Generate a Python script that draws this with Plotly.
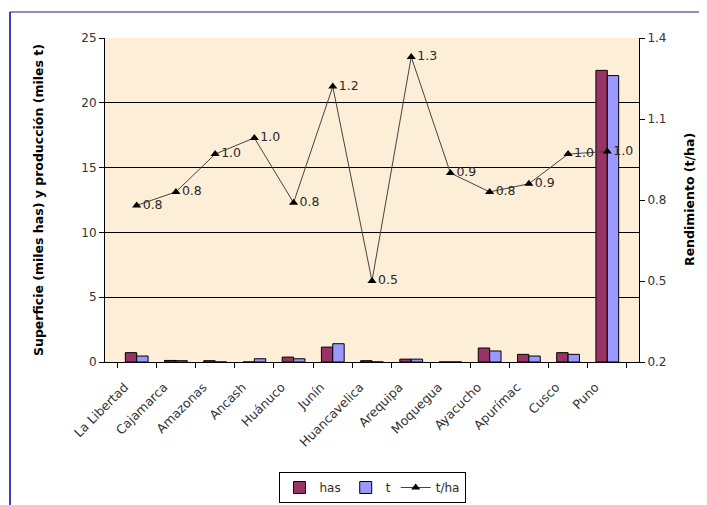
import plotly.graph_objects as go

regiones = ["La Libertad", "Cajamarca", "Amazonas", "Ancash", "Huánuco", "Junín",
            "Huancavelica", "Arequipa", "Moquegua", "Ayacucho", "Apurímac", "Cusco", "Puno"]
has = [0.72, 0.12, 0.10, 0.0, 0.38, 1.15, 0.10, 0.22, 0.0, 1.08, 0.59, 0.72, 22.5]
t = [0.46, 0.10, 0.0, 0.25, 0.25, 1.41, 0.0, 0.22, 0.0, 0.85, 0.46, 0.59, 22.1]
rend = [0.78, 0.83, 0.97, 1.03, 0.79, 1.22, 0.50, 1.33, 0.90, 0.83, 0.86, 0.97, 0.98]

FONT = "DejaVu Sans, Arial, sans-serif"
TXT = "#2a2a2a"

# the page body adds an 8px margin, so figure pixels = screen pixels - 8
OFF = 8
FW, FH = 707 - OFF, 505 - OFF
L, R, T, B = 105 - OFF, 639 - OFF, 38 - OFF, 362 - OFF
W, H = R - L, B - T

def px(x):
    return (x - OFF - L) / W

def py(y):
    return (B - (y - OFF)) / H

fig = go.Figure()
fig.add_trace(go.Bar(x=regiones, y=has, name="has", marker=dict(color="#993366", line=dict(color="black", width=1))))
fig.add_trace(go.Bar(x=regiones, y=t, name="t", marker=dict(color="#9999FF", line=dict(color="black", width=1))))
fig.add_trace(go.Scatter(
    x=regiones, y=rend, name="t/ha", yaxis="y2", mode="lines+markers+text",
    line=dict(color="#444444", width=1),
    marker=dict(symbol="triangle-up", size=8, color="black"),
    text=[f"{v:.1f}" for v in rend], textposition="middle right",
    textfont=dict(family=FONT, size=12.5, color=TXT),
))

fig.update_layout(
    width=FW, height=FH,
    margin=dict(l=L, r=FW - R, t=T, b=FH - B),
    paper_bgcolor="white",
    plot_bgcolor="#FDEED8",
    font=dict(family=FONT, size=12, color=TXT),
    barmode="group", bargap=0.42, bargroupgap=0.0,
    showlegend=True,
    legend=dict(orientation="h", xref="container", yref="container",
                x=(372 - OFF) / FW, xanchor="center", y=(FH - (472 - OFF)) / FH, yanchor="top",
                bgcolor="white", bordercolor="black", borderwidth=1,
                font=dict(family=FONT, size=12, color=TXT), itemwidth=30,
                tracegroupgap=0),
    xaxis=dict(tickangle=-45, tickson="boundaries", ticks="outside", ticklen=5,
               tickcolor="black", showline=True, linecolor="black", linewidth=1,
               showgrid=False, automargin=False, ticklabelstandoff=12, ticklabelshift=-12,
               tickfont=dict(family=FONT, size=12.5, color="#333333")),
    yaxis=dict(range=[0, 25], tickvals=[0, 5, 10, 15, 20, 25], ticks="outside", ticklen=5,
               tickcolor="black", showline=True, linecolor="black", showgrid=False,
               zeroline=False, automargin=False,
               minor=dict(tickvals=[5, 10, 15, 20], showgrid=True, gridcolor="black", gridwidth=1, ticks=""),
               tickfont=dict(family=FONT, size=12, color="#333333")),
    yaxis2=dict(range=[0.2, 1.4], tickvals=[0.2, 0.5, 0.8, 1.1, 1.4], tickformat=".1f",
                overlaying="y", side="right", ticks="outside", ticklen=5, tickcolor="black",
                showline=True, linecolor="black", showgrid=False, zeroline=False, automargin=False,
                tickfont=dict(family=FONT, size=12, color="#333333")),
    annotations=[
        dict(text="<b>Superficie (miles has) y producción (miles t)</b>", xref="paper", yref="paper",
             x=px(38), y=0.5, textangle=-90, showarrow=False, xanchor="center", yanchor="middle",
             font=dict(family=FONT, size=12.5, color="black")),
        dict(text="<b>Rendimiento (t/ha)</b>", xref="paper", yref="paper",
             x=px(689), y=0.5, textangle=-90, showarrow=False, xanchor="center", yanchor="middle",
             font=dict(family=FONT, size=12.5, color="black")),
    ],
    shapes=[
        dict(type="line", xref="paper", yref="paper", x0=px(10), x1=px(720), y0=py(12), y1=py(12),
             line=dict(color="#6666BB", width=1.5)),
        dict(type="line", xref="paper", yref="paper", x0=px(10), x1=px(10), y0=py(12), y1=py(520),
             line=dict(color="#0000AA", width=1.5)),
    ],
)

fig.write_html("out.html")
